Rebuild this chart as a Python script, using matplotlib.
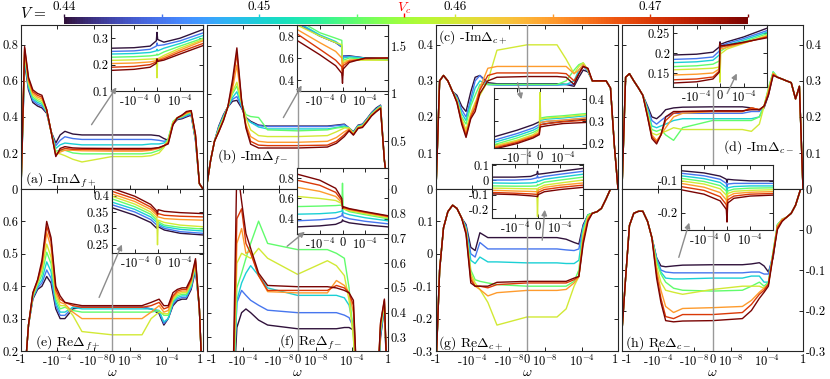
import numpy as np
import matplotlib
matplotlib.use("Agg")
import matplotlib.pyplot as plt
from matplotlib.colors import Normalize
from matplotlib.colorbar import ColorbarBase
from matplotlib.patches import FancyArrowPatch

plt.rcParams['mathtext.fontset'] = 'cm'
plt.rcParams['font.family'] = ['cmr10', 'DejaVu Serif']
plt.rcParams['axes.unicode_minus'] = False
plt.rcParams['axes.formatter.use_mathtext'] = True

# ---------------- data ----------------
V_VALUES = [0.44, 0.445, 0.45, 0.455, 0.46, 0.465, 0.47, 0.475]
V_C = 0.4574
CBAR_LABELS = [(0.44, '0.44'), (0.45, '0.45'), (0.46, '0.46'), (0.47, '0.47')]

OMEGA = [-1, -0.4, -0.15, -0.05, -0.015, -5e-3, -1.5e-3, -5e-4, -1.5e-4, -5e-5, -1.5e-5, -2e-6, -2e-7, 0,
         2e-7, 2e-6, 1.5e-5, 5e-5, 1.5e-4, 5e-4, 1.5e-3, 5e-3, 0.015, 0.05, 0.15, 0.4, 1]
X_TICKS = [-1, -1e-4, -1e-8, 0, 1e-8, 1e-4, 1]
X_TICKLABELS = ['-1', '-10$^{-4}$', '-10$^{-8}$', '0', '10$^{-8}$', '10$^{-4}$', '1']

W_INSET = [-2e-4, -1e-4, -3e-5, -3e-6, 0, 3e-6, 3e-5, 1e-4, 2e-4]
INSET_XTICKS = [-1e-4, 0, 1e-4]
INSET_XTICKLABELS = ['-10$^{-4}$', '0', '10$^{-4}$']

# (a) -Im Delta_f+
im_fp = [
    [0, 0.70, 0.55, 0.48, 0.46, 0.45, 0.42, 0.32, 0.255, 0.30, 0.32, 0.305, 0.30, 0.30, 0.30, 0.30, 0.295, 0.28, 0.27, 0.36, 0.385, 0.39, 0.40, 0.41, 0.27, 0.03, 0],
    [0, 0.715, 0.56, 0.49, 0.47, 0.46, 0.425, 0.32, 0.24, 0.27, 0.29, 0.28, 0.275, 0.275, 0.275, 0.275, 0.27, 0.265, 0.27, 0.365, 0.39, 0.395, 0.405, 0.415, 0.27, 0.03, 0],
    [0, 0.73, 0.57, 0.50, 0.48, 0.47, 0.43, 0.32, 0.225, 0.245, 0.255, 0.25, 0.245, 0.245, 0.245, 0.25, 0.25, 0.255, 0.275, 0.37, 0.39, 0.40, 0.41, 0.42, 0.28, 0.03, 0],
    [0, 0.745, 0.58, 0.51, 0.49, 0.48, 0.43, 0.32, 0.21, 0.215, 0.215, 0.20, 0.195, 0.195, 0.195, 0.20, 0.215, 0.235, 0.28, 0.375, 0.395, 0.40, 0.415, 0.425, 0.28, 0.03, 0],
    [0, 0.76, 0.59, 0.52, 0.50, 0.49, 0.435, 0.32, 0.20, 0.195, 0.185, 0.165, 0.15, 0.18, 0.18, 0.185, 0.20, 0.23, 0.27, 0.37, 0.395, 0.405, 0.42, 0.43, 0.29, 0.03, 0],
    [0, 0.77, 0.60, 0.53, 0.51, 0.50, 0.44, 0.32, 0.19, 0.205, 0.215, 0.215, 0.212, 0.21, 0.21, 0.215, 0.225, 0.24, 0.26, 0.365, 0.395, 0.405, 0.42, 0.43, 0.29, 0.03, 0],
    [0, 0.78, 0.61, 0.54, 0.52, 0.51, 0.44, 0.32, 0.185, 0.215, 0.225, 0.22, 0.22, 0.218, 0.218, 0.22, 0.23, 0.24, 0.255, 0.36, 0.395, 0.41, 0.425, 0.435, 0.30, 0.03, 0],
    [0, 0.79, 0.62, 0.55, 0.53, 0.52, 0.44, 0.32, 0.18, 0.225, 0.235, 0.228, 0.226, 0.225, 0.225, 0.225, 0.23, 0.24, 0.25, 0.355, 0.395, 0.41, 0.43, 0.435, 0.30, 0.03, 0],
]
# (b) -Im Delta_f-
im_fm = [
    [0.05, 0.3, 0.5, 0.66, 0.78, 0.86, 0.92, 0.93, 0.85, 0.75, 0.71, 0.67, 0.66, 0.66, 0.66, 0.67, 0.68, 0.64, 0.60, 0.67, 0.68, 0.74, 0.80, 0.85, 0.88, 0.3, 0],
    [0.05, 0.3, 0.5, 0.65, 0.77, 0.86, 0.94, 0.97, 0.86, 0.74, 0.70, 0.665, 0.655, 0.655, 0.655, 0.665, 0.675, 0.64, 0.595, 0.665, 0.675, 0.735, 0.795, 0.84, 0.875, 0.3, 0],
    [0.05, 0.3, 0.5, 0.64, 0.76, 0.86, 0.96, 1.02, 0.87, 0.74, 0.70, 0.65, 0.63, 0.63, 0.63, 0.645, 0.66, 0.64, 0.59, 0.66, 0.67, 0.73, 0.79, 0.835, 0.87, 0.3, 0],
    [0.05, 0.3, 0.5, 0.63, 0.75, 0.86, 1.0, 1.08, 0.9, 0.78, 0.76, 0.75, 0.62, 0.61, 0.62, 0.64, 0.65, 0.64, 0.585, 0.655, 0.665, 0.725, 0.785, 0.83, 0.865, 0.3, 0],
    [0.05, 0.3, 0.5, 0.62, 0.74, 0.86, 1.02, 1.12, 0.9, 0.75, 0.62, 0.56, 0.55, 0.55, 0.56, 0.60, 0.64, 0.64, 0.58, 0.65, 0.66, 0.72, 0.78, 0.825, 0.86, 0.3, 0],
    [0.05, 0.3, 0.5, 0.61, 0.73, 0.86, 1.05, 1.3, 0.92, 0.68, 0.55, 0.5, 0.49, 0.49, 0.5, 0.54, 0.6, 0.63, 0.575, 0.645, 0.655, 0.715, 0.775, 0.82, 0.855, 0.3, 0],
    [0.05, 0.3, 0.5, 0.6, 0.72, 0.86, 1.1, 1.42, 0.92, 0.66, 0.5, 0.46, 0.455, 0.455, 0.46, 0.5, 0.57, 0.62, 0.57, 0.64, 0.65, 0.71, 0.77, 0.815, 0.85, 0.3, 0],
    [0.05, 0.3, 0.5, 0.6, 0.72, 0.86, 1.15, 1.48, 0.93, 0.64, 0.47, 0.43, 0.43, 0.43, 0.44, 0.48, 0.55, 0.61, 0.565, 0.635, 0.645, 0.705, 0.765, 0.81, 0.845, 0.3, 0],
]
# (c) -Im Delta_c+
im_cp = [
    [0, 0.30, 0.315, 0.30, 0.27, 0.26, 0.23, 0.215, 0.27, 0.31, 0.315, 0.295, 0.292, 0.292, 0.292, 0.29, 0.285, 0.31, 0.33, 0.325, 0.30, 0.30, 0.30, 0.30, 0.28, 0.12, 0],
    [0, 0.30, 0.315, 0.30, 0.27, 0.255, 0.22, 0.20, 0.25, 0.30, 0.315, 0.29, 0.288, 0.288, 0.288, 0.29, 0.29, 0.32, 0.34, 0.327, 0.30, 0.30, 0.30, 0.30, 0.28, 0.12, 0],
    [0, 0.30, 0.315, 0.30, 0.27, 0.25, 0.21, 0.19, 0.24, 0.28, 0.30, 0.29, 0.29, 0.29, 0.29, 0.29, 0.30, 0.33, 0.345, 0.328, 0.30, 0.30, 0.30, 0.30, 0.28, 0.12, 0],
    [0, 0.30, 0.315, 0.30, 0.27, 0.25, 0.20, 0.18, 0.23, 0.26, 0.29, 0.29, 0.29, 0.29, 0.29, 0.30, 0.33, 0.345, 0.35, 0.33, 0.30, 0.30, 0.30, 0.30, 0.28, 0.12, 0],
    [0, 0.30, 0.315, 0.30, 0.27, 0.245, 0.195, 0.165, 0.21, 0.24, 0.26, 0.30, 0.385, 0.40, 0.40, 0.36, 0.32, 0.34, 0.35, 0.33, 0.30, 0.30, 0.30, 0.30, 0.28, 0.12, 0],
    [0, 0.30, 0.315, 0.30, 0.27, 0.245, 0.19, 0.155, 0.205, 0.235, 0.28, 0.335, 0.34, 0.34, 0.34, 0.34, 0.32, 0.33, 0.345, 0.332, 0.30, 0.30, 0.30, 0.30, 0.28, 0.12, 0],
    [0, 0.30, 0.315, 0.30, 0.27, 0.24, 0.185, 0.148, 0.20, 0.225, 0.275, 0.315, 0.322, 0.322, 0.322, 0.32, 0.30, 0.32, 0.34, 0.334, 0.30, 0.30, 0.30, 0.30, 0.28, 0.12, 0],
    [0, 0.30, 0.315, 0.30, 0.27, 0.24, 0.18, 0.143, 0.195, 0.215, 0.265, 0.30, 0.31, 0.312, 0.312, 0.31, 0.29, 0.32, 0.34, 0.335, 0.30, 0.30, 0.30, 0.30, 0.28, 0.12, 0],
]
# (d) -Im Delta_c-
im_cm = [
    [0, 0.31, 0.32, 0.30, 0.28, 0.26, 0.23, 0.20, 0.195, 0.205, 0.22, 0.225, 0.227, 0.228, 0.228, 0.225, 0.22, 0.225, 0.26, 0.32, 0.31, 0.305, 0.30, 0.295, 0.25, 0.285, 0],
    [0, 0.31, 0.32, 0.30, 0.28, 0.26, 0.225, 0.19, 0.18, 0.19, 0.20, 0.21, 0.21, 0.21, 0.21, 0.215, 0.215, 0.23, 0.265, 0.322, 0.31, 0.305, 0.30, 0.295, 0.25, 0.285, 0],
    [0, 0.31, 0.32, 0.30, 0.28, 0.26, 0.22, 0.175, 0.17, 0.175, 0.18, 0.19, 0.195, 0.195, 0.195, 0.195, 0.20, 0.23, 0.275, 0.325, 0.31, 0.305, 0.30, 0.295, 0.25, 0.285, 0],
    [0, 0.31, 0.32, 0.30, 0.28, 0.26, 0.215, 0.165, 0.16, 0.165, 0.15, 0.135, 0.17, 0.19, 0.19, 0.19, 0.20, 0.23, 0.28, 0.325, 0.31, 0.305, 0.30, 0.295, 0.25, 0.285, 0],
    [0, 0.31, 0.32, 0.30, 0.28, 0.26, 0.21, 0.155, 0.15, 0.155, 0.16, 0.17, 0.165, 0.165, 0.165, 0.16, 0.18, 0.23, 0.275, 0.322, 0.31, 0.305, 0.30, 0.295, 0.25, 0.285, 0],
    [0, 0.31, 0.32, 0.30, 0.28, 0.26, 0.205, 0.15, 0.135, 0.15, 0.17, 0.20, 0.21, 0.215, 0.215, 0.225, 0.22, 0.23, 0.27, 0.32, 0.31, 0.305, 0.30, 0.295, 0.25, 0.285, 0],
    [0, 0.31, 0.32, 0.30, 0.28, 0.26, 0.20, 0.145, 0.13, 0.15, 0.19, 0.21, 0.215, 0.215, 0.215, 0.225, 0.22, 0.23, 0.265, 0.318, 0.31, 0.305, 0.30, 0.295, 0.25, 0.285, 0],
    [0, 0.31, 0.32, 0.30, 0.28, 0.26, 0.20, 0.14, 0.125, 0.15, 0.20, 0.215, 0.215, 0.217, 0.217, 0.22, 0.22, 0.23, 0.26, 0.315, 0.31, 0.305, 0.30, 0.295, 0.25, 0.285, 0],
]
# (e) Re Delta_f+
re_fp = [
    [0.0, 0.12, 0.28, 0.36, 0.39, 0.40, 0.43, 0.41, 0.33, 0.30, 0.30, 0.33, 0.335, 0.335, 0.335, 0.33, 0.315, 0.28, 0.30, 0.34, 0.355, 0.36, 0.36, 0.39, 0.45, 0.33, 0.05],
    [0.0, 0.12, 0.28, 0.363, 0.395, 0.41, 0.45, 0.425, 0.34, 0.31, 0.31, 0.335, 0.335, 0.335, 0.335, 0.33, 0.32, 0.285, 0.30, 0.345, 0.36, 0.365, 0.365, 0.395, 0.455, 0.33, 0.05],
    [0.0, 0.12, 0.28, 0.366, 0.40, 0.42, 0.475, 0.445, 0.35, 0.32, 0.32, 0.335, 0.33, 0.33, 0.33, 0.33, 0.325, 0.29, 0.30, 0.35, 0.365, 0.37, 0.37, 0.40, 0.46, 0.33, 0.05],
    [0.0, 0.12, 0.28, 0.369, 0.405, 0.435, 0.505, 0.47, 0.36, 0.33, 0.335, 0.325, 0.32, 0.32, 0.32, 0.32, 0.325, 0.31, 0.31, 0.355, 0.37, 0.375, 0.375, 0.405, 0.465, 0.33, 0.05],
    [0.0, 0.12, 0.28, 0.372, 0.41, 0.45, 0.53, 0.49, 0.37, 0.34, 0.34, 0.31, 0.26, 0.25, 0.25, 0.30, 0.32, 0.315, 0.315, 0.36, 0.375, 0.38, 0.38, 0.41, 0.47, 0.33, 0.05],
    [0.0, 0.12, 0.28, 0.375, 0.415, 0.46, 0.565, 0.52, 0.38, 0.35, 0.345, 0.32, 0.30, 0.30, 0.30, 0.32, 0.34, 0.32, 0.325, 0.365, 0.38, 0.385, 0.385, 0.415, 0.475, 0.33, 0.05],
    [0.0, 0.12, 0.28, 0.378, 0.418, 0.47, 0.585, 0.54, 0.39, 0.36, 0.35, 0.34, 0.335, 0.335, 0.335, 0.34, 0.35, 0.33, 0.335, 0.37, 0.385, 0.39, 0.39, 0.42, 0.48, 0.33, 0.05],
    [0.0, 0.12, 0.28, 0.38, 0.42, 0.48, 0.60, 0.55, 0.40, 0.37, 0.35, 0.345, 0.34, 0.34, 0.34, 0.35, 0.36, 0.34, 0.34, 0.38, 0.39, 0.395, 0.395, 0.425, 0.485, 0.33, 0.05],
]
# (f) Re Delta_f-
re_fm = [
    [0, 0, 0, 0, 0, 0, 0, 0.34, 0.40, 0.415, 0.40, 0.37, 0.35, 0.335, 0.335, 0.335, 0.34, 0.34, 0.33, 0, 0, 0, 0, 0, 0.30, 0.42, 0],
    [0, 0, 0, 0, 0, 0, 0, 0.44, 0.49, 0.47, 0.45, 0.43, 0.41, 0.40, 0.40, 0.40, 0.39, 0.38, 0.34, 0, 0, 0, 0, 0, 0.31, 0.425, 0],
    [0, 0, 0, 0, 0, 0, 0, 0.45, 0.52, 0.56, 0.59, 0.55, 0.50, 0.47, 0.47, 0.47, 0.46, 0.43, 0.34, 0, 0, 0, 0, 0, 0.32, 0.43, 0],
    [0, 0, 0, 0, 0, 0, 0, 0.50, 0.56, 0.62, 0.68, 0.77, 0.68, 0.655, 0.655, 0.64, 0.62, 0.50, 0.30, 0, 0, 0, 0, 0, 0.33, 0.435, 0],
    [0, 0, 0, 0, 0, 0, 0, 0.60, 0.64, 0.63, 0.62, 0.66, 0.62, 0.555, 0.61, 0.59, 0.55, 0.45, 0.30, 0, 0, 0, 0, 0, 0.34, 0.44, 0],
    [0, 0, 0, 0, 0, 0, 0, 0.68, 0.74, 0.64, 0.65, 0.55, 0.485, 0.48, 0.48, 0.53, 0.51, 0.48, 0.40, 0, 0, 0, 0, 0, 0.35, 0.445, 0],
    [0, 0, 0, 0, 0, 0, 0, 0.78, 0.82, 0.68, 0.64, 0.55, 0.49, 0.49, 0.49, 0.51, 0.50, 0.48, 0.43, 0, 0, 0, 0, 0, 0.355, 0.45, 0],
    [0, 0, 0, 0, 0, 0, 0, 1.00, 0.85, 0.72, 0.66, 0.56, 0.51, 0.505, 0.505, 0.50, 0.49, 0.48, 0.45, 0, 0, 0, 0, 0, 0.36, 0.455, 0],
]
# (g) Re Delta_c+
re_cp = [
    [-0.35, -0.05, 0.08, 0.13, 0.15, 0.14, 0.11, 0.09, 0.02, 0.01, 0.065, 0.05, 0.05, 0.05, 0.05, 0.045, 0.035, 0.03, 0.09, 0.12, 0.125, 0.13, 0.14, 0.17, 0.2, 0.22, 0.22],
    [-0.35, -0.05, 0.08, 0.13, 0.15, 0.14, 0.11, 0.085, 0.0, -0.01, 0.035, 0.015, 0.015, 0.015, 0.015, 0.012, 0.01, 0.015, 0.085, 0.12, 0.125, 0.13, 0.14, 0.17, 0.2, 0.22, 0.22],
    [-0.35, -0.05, 0.08, 0.13, 0.15, 0.14, 0.11, 0.08, -0.02, -0.03, -0.01, -0.025, -0.025, -0.028, -0.028, -0.03, -0.03, -0.02, 0.08, 0.12, 0.125, 0.13, 0.14, 0.17, 0.2, 0.22, 0.22],
    [-0.35, -0.05, 0.08, 0.13, 0.15, 0.14, 0.11, 0.075, -0.05, -0.08, -0.085, -0.09, -0.095, -0.1, -0.1, -0.1, -0.085, -0.05, 0.07, 0.12, 0.125, 0.13, 0.14, 0.17, 0.2, 0.22, 0.22],
    [-0.35, -0.05, 0.08, 0.13, 0.15, 0.14, 0.11, 0.07, -0.06, -0.09, -0.11, -0.15, -0.22, -0.195, -0.195, -0.17, -0.1, -0.07, 0.06, 0.115, 0.125, 0.13, 0.14, 0.17, 0.2, 0.22, 0.22],
    [-0.35, -0.05, 0.08, 0.13, 0.15, 0.14, 0.11, 0.07, -0.07, -0.1, -0.11, -0.13, -0.12, -0.113, -0.113, -0.11, -0.09, -0.07, 0.05, 0.11, 0.125, 0.13, 0.14, 0.17, 0.2, 0.22, 0.22],
    [-0.35, -0.05, 0.08, 0.13, 0.15, 0.14, 0.11, 0.065, -0.08, -0.1, -0.1, -0.105, -0.095, -0.09, -0.09, -0.09, -0.08, -0.07, 0.04, 0.105, 0.125, 0.13, 0.14, 0.17, 0.2, 0.22, 0.22],
    [-0.35, -0.05, 0.08, 0.13, 0.15, 0.14, 0.11, 0.06, -0.09, -0.1, -0.1, -0.1, -0.088, -0.085, -0.085, -0.085, -0.075, -0.07, 0.03, 0.10, 0.125, 0.13, 0.14, 0.17, 0.2, 0.22, 0.22],
]
# (h) Re Delta_c-
re_cm = [
    [-0.25, -0.12, 0.01, 0.04, 0.045, 0.045, 0.02, -0.02, -0.07, -0.09, -0.092, -0.09, -0.088, -0.087, -0.087, -0.085, -0.082, -0.09, -0.105, -0.07, 0.01, 0.025, 0.03, 0.04, 0.06, 0.09, 0.12],
    [-0.25, -0.12, 0.01, 0.04, 0.045, 0.045, 0.02, -0.02, -0.07, -0.10, -0.105, -0.107, -0.107, -0.107, -0.107, -0.105, -0.105, -0.11, -0.11, -0.06, 0.01, 0.025, 0.03, 0.04, 0.06, 0.09, 0.12],
    [-0.25, -0.12, 0.01, 0.04, 0.045, 0.045, 0.02, -0.02, -0.075, -0.105, -0.12, -0.122, -0.122, -0.12, -0.12, -0.115, -0.115, -0.13, -0.13, -0.055, 0.012, 0.025, 0.03, 0.04, 0.06, 0.09, 0.12],
    [-0.25, -0.12, 0.01, 0.04, 0.045, 0.045, 0.02, -0.02, -0.08, -0.11, -0.13, -0.145, -0.15, -0.152, -0.15, -0.14, -0.13, -0.14, -0.13, -0.055, 0.012, 0.025, 0.03, 0.04, 0.06, 0.09, 0.12],
    [-0.25, -0.12, 0.01, 0.04, 0.045, 0.045, 0.02, -0.02, -0.09, -0.13, -0.15, -0.155, -0.16, -0.148, -0.14, -0.14, -0.14, -0.145, -0.135, -0.058, 0.01, 0.025, 0.03, 0.04, 0.06, 0.09, 0.12],
    [-0.25, -0.12, 0.01, 0.04, 0.045, 0.045, 0.02, -0.02, -0.10, -0.15, -0.19, -0.205, -0.195, -0.193, -0.19, -0.175, -0.155, -0.145, -0.135, -0.06, 0.008, 0.025, 0.03, 0.04, 0.06, 0.09, 0.12],
    [-0.25, -0.12, 0.01, 0.04, 0.045, 0.045, 0.02, -0.02, -0.11, -0.17, -0.215, -0.22, -0.21, -0.21, -0.205, -0.185, -0.16, -0.15, -0.135, -0.062, 0.005, 0.022, 0.03, 0.04, 0.06, 0.09, 0.12],
    [-0.25, -0.12, 0.01, 0.04, 0.045, 0.045, 0.02, -0.02, -0.12, -0.18, -0.225, -0.228, -0.226, -0.225, -0.22, -0.20, -0.17, -0.155, -0.14, -0.065, 0.0, 0.02, 0.03, 0.04, 0.06, 0.09, 0.12],
]

# insets
ins_im_fp = [
    [0.262, 0.264, 0.27, 0.29, 0.322, 0.295, 0.285, 0.30, 0.333],
    [0.25, 0.252, 0.258, 0.27, 0.282, 0.272, 0.275, 0.29, 0.32],
    [0.24, 0.242, 0.246, 0.252, 0.258, 0.252, 0.262, 0.28, 0.31],
    [0.228, 0.23, 0.233, 0.236, 0.24, 0.236, 0.248, 0.27, 0.30],
    [0.216, 0.218, 0.221, 0.222, 0.15, 0.222, 0.235, 0.262, 0.295],
    [0.204, 0.206, 0.21, 0.215, 0.22, 0.218, 0.228, 0.255, 0.29],
    [0.19, 0.193, 0.20, 0.21, 0.22, 0.215, 0.222, 0.248, 0.28],
    [0.178, 0.182, 0.19, 0.205, 0.222, 0.212, 0.217, 0.24, 0.272],
]
ins_im_fm = [
    [0.92, 0.80, 0.74, 0.70, 0.60, 0.62, 0.62, 0.60, 0.59],
    [0.92, 0.80, 0.74, 0.70, 0.60, 0.62, 0.615, 0.60, 0.59],
    [0.93, 0.81, 0.75, 0.71, 0.58, 0.60, 0.61, 0.60, 0.59],
    [0.95, 0.83, 0.78, 0.76, 0.55, 0.58, 0.60, 0.59, 0.58],
    [0.90, 0.80, 0.74, 0.72, 0.52, 0.57, 0.58, 0.58, 0.58],
    [0.86, 0.74, 0.66, 0.60, 0.48, 0.55, 0.58, 0.59, 0.60],
    [0.82, 0.68, 0.58, 0.52, 0.44, 0.53, 0.57, 0.595, 0.60],
    [0.76, 0.63, 0.53, 0.46, 0.37, 0.50, 0.56, 0.60, 0.60],
]
ins_im_cp = [
    [0.23, 0.26, 0.285, 0.298, 0.28, 0.285, 0.29, 0.30, 0.31],
    [0.215, 0.245, 0.27, 0.285, 0.29, 0.295, 0.30, 0.305, 0.315],
    [0.205, 0.235, 0.26, 0.275, 0.30, 0.305, 0.31, 0.315, 0.325],
    [0.195, 0.225, 0.25, 0.265, 0.31, 0.315, 0.32, 0.325, 0.335],
    [0.19, 0.215, 0.24, 0.26, 0.43, 0.31, 0.315, 0.32, 0.33],
    [0.185, 0.21, 0.235, 0.25, 0.29, 0.295, 0.30, 0.305, 0.315],
    [0.18, 0.205, 0.23, 0.245, 0.28, 0.285, 0.29, 0.298, 0.305],
    [0.175, 0.20, 0.225, 0.24, 0.27, 0.275, 0.28, 0.29, 0.295],
]
ins_im_cm = [
    [0.195, 0.197, 0.202, 0.215, 0.228, 0.222, 0.228, 0.24, 0.262],
    [0.184, 0.186, 0.19, 0.205, 0.222, 0.218, 0.224, 0.236, 0.256],
    [0.176, 0.178, 0.182, 0.195, 0.22, 0.214, 0.22, 0.232, 0.252],
    [0.166, 0.168, 0.172, 0.18, 0.20, 0.205, 0.215, 0.228, 0.248],
    [0.158, 0.16, 0.162, 0.165, 0.127, 0.198, 0.21, 0.224, 0.244],
    [0.145, 0.147, 0.15, 0.16, 0.215, 0.21, 0.214, 0.225, 0.242],
    [0.133, 0.135, 0.14, 0.155, 0.22, 0.215, 0.218, 0.226, 0.24],
    [0.125, 0.128, 0.135, 0.152, 0.225, 0.218, 0.22, 0.227, 0.238],
]
ins_re_fp = [
    [0.363, 0.34, 0.318, 0.30, 0.31, 0.305, 0.295, 0.285, 0.28],
    [0.372, 0.35, 0.327, 0.31, 0.315, 0.31, 0.30, 0.29, 0.285],
    [0.38, 0.358, 0.335, 0.318, 0.318, 0.315, 0.305, 0.297, 0.292],
    [0.39, 0.366, 0.343, 0.325, 0.32, 0.32, 0.31, 0.303, 0.298],
    [0.398, 0.374, 0.35, 0.332, 0.25, 0.325, 0.318, 0.31, 0.305],
    [0.405, 0.382, 0.358, 0.34, 0.335, 0.335, 0.33, 0.327, 0.325],
    [0.413, 0.39, 0.365, 0.347, 0.34, 0.345, 0.34, 0.337, 0.335],
    [0.422, 0.398, 0.373, 0.353, 0.345, 0.357, 0.352, 0.348, 0.345],
]
ins_re_fm = [
    [0.32, 0.33, 0.345, 0.37, 0.39, 0.38, 0.36, 0.34, 0.32],
    [0.38, 0.39, 0.405, 0.43, 0.46, 0.42, 0.40, 0.375, 0.35],
    [0.445, 0.45, 0.46, 0.475, 0.50, 0.46, 0.44, 0.41, 0.38],
    [0.52, 0.525, 0.53, 0.535, 0.75, 0.50, 0.47, 0.44, 0.40],
    [0.62, 0.60, 0.58, 0.55, 0.52, 0.50, 0.48, 0.45, 0.41],
    [0.71, 0.67, 0.62, 0.56, 0.52, 0.51, 0.49, 0.46, 0.42],
    [0.78, 0.73, 0.66, 0.58, 0.52, 0.51, 0.495, 0.465, 0.425],
    [0.84, 0.78, 0.70, 0.60, 0.50, 0.52, 0.50, 0.47, 0.43],
]
ins_re_cp = [
    [0.02, 0.02, 0.025, 0.04, 0.06, 0.04, 0.045, 0.06, 0.08],
    [0.0, 0.0, 0.005, 0.015, 0.03, 0.015, 0.025, 0.04, 0.06],
    [-0.02, -0.022, -0.02, -0.015, -0.005, -0.01, 0.005, 0.02, 0.04],
    [-0.04, -0.042, -0.042, -0.04, -0.03, -0.035, -0.015, 0.0, 0.02],
    [-0.055, -0.058, -0.06, -0.06, -0.25, -0.055, -0.035, -0.02, 0.0],
    [-0.07, -0.075, -0.078, -0.08, -0.085, -0.07, -0.05, -0.035, -0.02],
    [-0.085, -0.09, -0.095, -0.098, -0.10, -0.085, -0.065, -0.05, -0.035],
    [-0.095, -0.10, -0.108, -0.112, -0.115, -0.10, -0.08, -0.065, -0.05],
]
ins_re_cm = [
    [-0.068, -0.075, -0.085, -0.095, -0.105, -0.095, -0.097, -0.10, -0.10],
    [-0.076, -0.084, -0.095, -0.108, -0.12, -0.11, -0.108, -0.108, -0.108],
    [-0.084, -0.093, -0.105, -0.12, -0.135, -0.122, -0.118, -0.116, -0.116],
    [-0.092, -0.102, -0.115, -0.132, -0.15, -0.132, -0.126, -0.123, -0.122],
    [-0.10, -0.11, -0.125, -0.145, -0.17, -0.14, -0.133, -0.13, -0.128],
    [-0.108, -0.12, -0.137, -0.16, -0.19, -0.15, -0.14, -0.136, -0.134],
    [-0.118, -0.13, -0.15, -0.175, -0.21, -0.16, -0.148, -0.142, -0.14],
    [-0.128, -0.142, -0.163, -0.19, -0.23, -0.17, -0.155, -0.148, -0.145],
]

# ---------------- drawing ----------------
W, H = 830, 379
fig = plt.figure(figsize=(W / 100, H / 100), dpi=100)
cmap = plt.get_cmap('turbo')
norm = Normalize(V_VALUES[0], V_VALUES[-1])
COLORS = [cmap(norm(v)) for v in V_VALUES]
FS = 9


def px_axes(x0, y0, x1, y1):
    return fig.add_axes([x0 / W, 1 - y1 / H, (x1 - x0) / W, (y1 - y0) / H])


def fwd(w):
    w = np.asarray(w, dtype=float)
    a = np.abs(w)
    return np.where(a > 1e-10, np.sign(w) * (np.log10(np.maximum(a, 1e-300)) + 10), w * 1e10)


def inv(u):
    u = np.asarray(u, dtype=float)
    return np.where(np.abs(u) > 1, np.sign(u) * 10 ** (np.abs(u) - 10), u * 1e-10)


def style(ax):
    ax.tick_params(direction='in', top=True, right=True, length=3, width=0.6,
                   labelsize=FS, pad=2)
    for s in ax.spines.values():
        s.set_linewidth(0.8)
        s.set_color('0.15')


def main_panel(box, rows, ylim, yticks, ylabels, label, label_pos, right=False, bottom=False,
               shift_first=False, shift_last=False):
    ax = px_axes(*box)
    ax.set_xscale('function', functions=(fwd, inv))
    for k, r in enumerate(rows):
        ax.plot(OMEGA, r, color=COLORS[k], lw=1.0, zorder=2)
    ax.axvline(0, color='0.6', lw=1.0, zorder=3)
    ax.set_xlim(-1, 1)
    ax.set_ylim(*ylim)
    ax.set_xticks(X_TICKS)
    ax.set_xticklabels(X_TICKLABELS if bottom else [''] * len(X_TICKS))
    ax.minorticks_off()
    ax.set_yticks(yticks)
    ax.set_yticklabels(ylabels)
    style(ax)
    if right:
        ax.tick_params(labelleft=False, labelright=True)
    if not bottom:
        ax.tick_params(labelbottom=False)
    else:
        ax.set_xlabel(r'$\omega$', fontsize=FS + 1, labelpad=-1.5)
        labels = ax.get_xticklabels()
        if shift_first:
            labels[0].set_horizontalalignment('left')
        if shift_last:
            labels[-1].set_horizontalalignment('right')
    ax.text(label_pos[0], label_pos[1], label, transform=ax.transAxes, fontsize=10,
            va='center', ha='left', zorder=5)
    return ax


def inset(box, rows, ylim, yticks, ylabels, right=False):
    ax = px_axes(*box)
    for k, r in enumerate(rows):
        ax.plot(W_INSET, r, color=COLORS[k], lw=1.0)
    ax.set_xlim(-2e-4, 2e-4)
    ax.set_ylim(*ylim)
    ax.set_xticks(INSET_XTICKS)
    ax.set_xticklabels(INSET_XTICKLABELS)
    ax.set_yticks(yticks)
    ax.set_yticklabels(ylabels)
    ax.minorticks_off()
    style(ax)
    if right:
        ax.tick_params(labelleft=False, labelright=True)
    return ax


main_panel((21, 25, 203, 189), im_fp, (0, 0.91), [0, 0.2, 0.4, 0.6, 0.8], ['0', '0.2', '0.4', '0.6', '0.8'],
           r'(a) -Im$\Delta_{f+}$', (0.02, 0.05))
main_panel((207, 25, 388, 189), im_fm, (0, 1.72), [0, 0.5, 1, 1.5], ['0', '0.5', '1', '1.5'],
           r'(b) -Im$\Delta_{f-}$', (0.055, 0.195), right=True)
main_panel((436, 25, 618, 189), im_cp, (0, 0.455), [0, 0.1, 0.2, 0.3, 0.4], ['0', '0.1', '0.2', '0.3', '0.4'],
           r'(c) -Im$\Delta_{c+}$', (0.01, 0.925))
main_panel((622, 25, 803, 189), im_cm, (0, 0.455), [0, 0.1, 0.2, 0.3, 0.4], ['0', '0.1', '0.2', '0.3', '0.4'],
           r'(d) -Im$\Delta_{c-}$', (0.56, 0.256), right=True)
main_panel((21, 189, 203, 351), re_fp, (0.2, 0.7), [0.2, 0.3, 0.4, 0.5, 0.6], ['0.2', '0.3', '0.4', '0.5', '0.6'],
           r'(e) Re$\Delta_{f+}$', (0.075, 0.05), bottom=True, shift_last=True)
main_panel((207, 189, 388, 351), re_fm, (0.245, 0.9), [0.3, 0.4, 0.5, 0.6, 0.7, 0.8],
           ['0.3', '0.4', '0.5', '0.6', '0.7', '0.8'], r'(f) Re$\Delta_{f-}$', (0.40, 0.055), right=True, bottom=True,
           shift_first=True)
main_panel((436, 189, 618, 351), re_cp, (-0.3, 0.2), [-0.3, -0.2, -0.1, 0, 0.1], ['-0.3', '-0.2', '-0.1', '0', '0.1'],
           r'(g) Re$\Delta_{c+}$', (0.01, 0.05), bottom=True, shift_last=True)
main_panel((622, 189, 803, 351), re_cm, (-0.3, 0.1), [-0.3, -0.2, -0.1, 0], ['-0.3', '-0.2', '-0.1', '0'],
           r'(h) Re$\Delta_{c-}$', (0.017, 0.05), right=True, bottom=True, shift_first=True)

inset((111, 25, 203, 91), ins_im_fp, (0.1, 0.35), [0.1, 0.2, 0.3], ['0.1', '0.2', '0.3'])
inset((297, 25, 388, 91), ins_im_fm, (0.3, 0.9), [0.4, 0.6, 0.8], ['0.4', '0.6', '0.8'])
inset((494, 88, 586, 148), ins_im_cp, (0.18, 0.45), [0.2, 0.3, 0.4], ['0.2', '0.3', '0.4'], right=True)
inset((673, 25, 767, 87), ins_im_cm, (0.115, 0.27), [0.15, 0.2, 0.25], ['0.15', '0.2', '0.25'])
inset((112, 189, 203, 253), ins_re_fp, (0.225, 0.42), [0.25, 0.3, 0.35, 0.4], ['0.25', '0.3', '0.35', '0.4'])
inset((297, 168, 388, 234), ins_re_fm, (0.25, 0.9), [0.4, 0.6, 0.8], ['0.4', '0.6', '0.8'])
inset((492, 164, 583, 218), ins_re_cp, (-0.26, 0.11), [-0.2, -0.1, 0, 0.1], ['-0.2', '-0.1', '0', '0.1'])
inset((681, 165, 773, 230), ins_re_cm, (-0.255, -0.05), [-0.2, -0.1], ['-0.2', '-0.1'])

# arrows (figure pixel positions)
ARROWS = [((90, 127), (118, 85)), ((282, 120), (303, 83)), ((517, 80), (522, 102)),
          ((726, 96), (738, 71)), ((98, 300), (123, 242)), ((285, 248), (307, 230)),
          ((542, 243), (545, 207)), ((678, 260), (690, 220))]
for (xa, ya), (xb, yb) in ARROWS:
    fig.add_artist(FancyArrowPatch((xa / W, 1 - ya / H), (xb / W, 1 - yb / H), transform=fig.transFigure,
                                   arrowstyle='-|>', mutation_scale=8, color='0.55', lw=1.0, zorder=10))

# colorbar
cax = px_axes(64, 17, 748, 24)
cb = ColorbarBase(cax, cmap=cmap, norm=norm, orientation='horizontal')
cb.outline.set_visible(False)
cax.set_xticks([])
cax.set_yticks([])
tr = cax.get_xaxis_transform()
cax.vlines(V_VALUES, 1.0, 1.45, colors=COLORS, lw=1.0, transform=tr, clip_on=False)
cax.vlines([V_C], 1.0, 1.6, colors='red', lw=1.0, transform=tr, clip_on=False)
for v, s in CBAR_LABELS:
    cax.text(v, 1.6, s, transform=tr, ha='center', va='bottom', fontsize=FS + 0.5)
cax.text(V_C, 2.2, r'$V_c$', transform=tr, ha='center', va='center', fontsize=FS + 1, color='red')
fig.text(20 / W, 1 - 14 / H, r'$V\,=$', fontsize=FS + 2, ha='left', va='center')

fig.savefig('out.png', dpi=100)
